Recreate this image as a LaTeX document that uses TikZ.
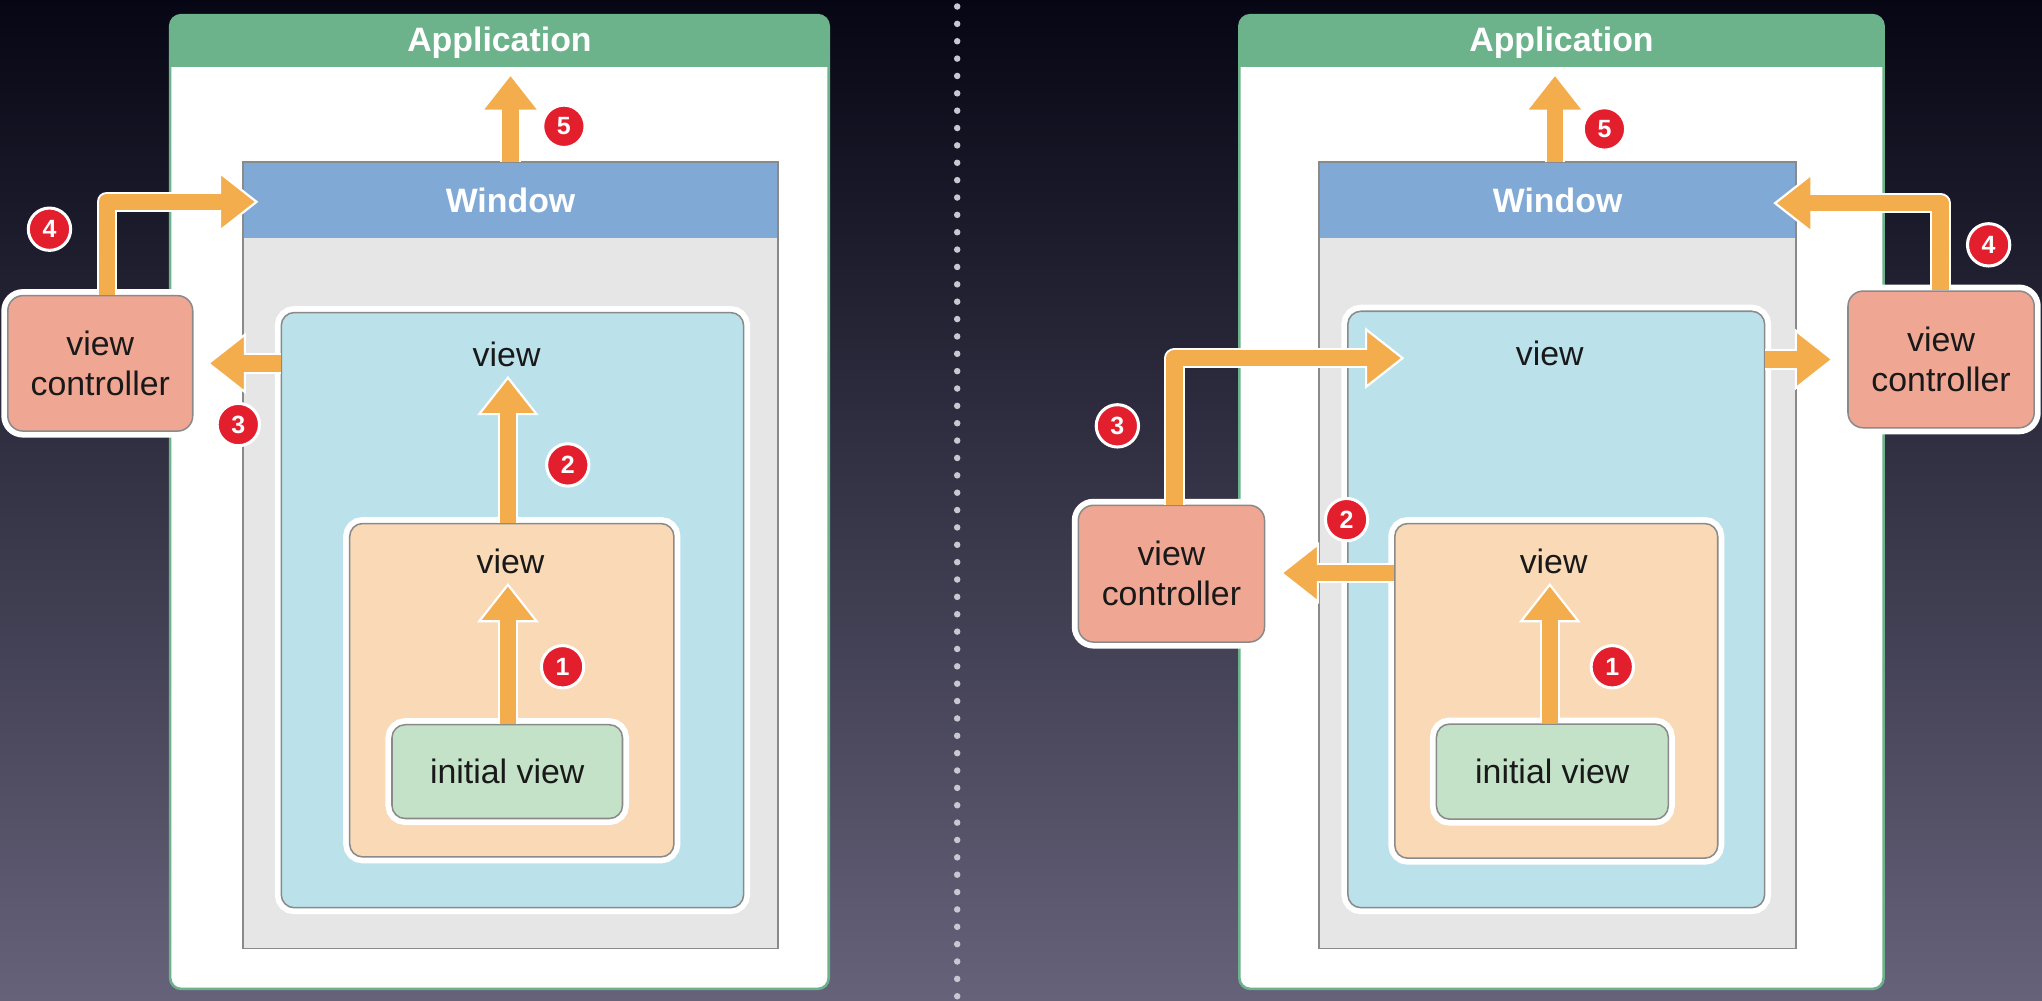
\documentclass[tikz,border=0pt]{standalone}
\usepackage{fontspec}
\setmainfont{Liberation Sans}
\usetikzlibrary{calc}
\definecolor{bgtop}{RGB}{6,6,20}
\definecolor{bgmid}{RGB}{40,39,66}
\definecolor{bgbot}{RGB}{102,98,122}
\definecolor{appgreen}{RGB}{108,178,138}
\definecolor{winblue}{RGB}{128,169,213}
\definecolor{wingray}{RGB}{229,230,229}
\definecolor{bordgray}{RGB}{138,138,138}
\definecolor{viewblue}{RGB}{187,225,235}
\definecolor{vieworange}{RGB}{249,217,182}
\definecolor{viewgreen}{RGB}{196,226,200}
\definecolor{vcred}{RGB}{239,167,148}
\definecolor{arrorange}{RGB}{244,173,76}
\definecolor{badgered}{RGB}{227,30,45}
\definecolor{txtblack}{RGB}{25,25,25}
\definecolor{dotgray}{RGB}{200,200,210}
% heads: tip at #1, length 28, half width 22 (picture units)
\newcommand\headup[1]{\filldraw[arrhead] (#1) -- ++(22,28) -- ++(-44,0) -- cycle;
  \draw[shaftfix] ($(#1)+(0,30)$) -- ($(#1)+(0,26)$);}
\newcommand\headleft[1]{\filldraw[arrhead] (#1) -- ++(28,-22) -- ++(0,44) -- cycle;
  \draw[shaftfix] ($(#1)+(30,0)$) -- ($(#1)+(26,0)$);}
\newcommand\headright[1]{\filldraw[arrhead] (#1) -- ++(-28,-22) -- ++(0,44) -- cycle;
  \draw[shaftfix] ($(#1)+(-30,0)$) -- ($(#1)+(-26,0)$);}
\begin{document}
\begin{tikzpicture}[x=0.6pt,y=-0.6pt,
  sz/.style 2 args={minimum width=#1*0.6pt, minimum height=#2*0.6pt},
  appbox/.style={rectangle, fill=white, inner sep=0, rounded corners=5pt},
  winbox/.style={rectangle, fill=wingray, inner sep=0},
  vbox/.style={rectangle, rounded corners=6pt, draw=bordgray, line width=0.7pt, inner sep=0,
     preaction={draw=white, line width=6pt}},
  bodytxt/.style={font=\fontsize{15.6}{18.6}\selectfont, text=txtblack, align=center},
  headtxt/.style={font=\bfseries\fontsize{15.6}{18.6}\selectfont, text=white},
  badge/.style={circle, fill=badgered, draw=white, line width=1.4pt, minimum size=19.5pt, inner sep=0,
     font=\bfseries\fontsize{11.5}{13}\selectfont, text=white},
  arrhead/.style={fill=arrorange, draw=white, line width=1pt, line join=miter},
  shaft/.style={draw=arrorange, line width=7.6pt, line join=round,
     preaction={draw=white, line width=9.4pt, line join=round}},
  shaftfix/.style={draw=arrorange, line width=7.6pt},
  dotline/.style={draw=dotgray, line width=3pt, line cap=round, dash pattern=on 0pt off 8pt}
]
\useasboundingbox (0,0) rectangle (1568,768);
\shade[top color=bgtop, middle color=bgmid, bottom color=bgbot] (0,0) rectangle (1568,768);
\draw[dotline] (735,5) -- (735,768);

% ================= LEFT PANEL =================
\node[appbox, sz={505}{747}] (app1) at (383.5,385.5) {};
\begin{scope}
  \clip[rounded corners=5pt] (app1.north west) rectangle (app1.south east);
  \fill[appgreen] (app1.north west) rectangle ($(app1.north east)+(0,40)$);
\end{scope}
\draw[appgreen, line width=1.2pt, rounded corners=5pt] (app1.north west) rectangle (app1.south east);
\node[headtxt] (app1t) at (383.5,33) {Application};

\node[winbox, sz={410}{603}] (win1) at (392,426.5) {};
\fill[winblue] (win1.north west) rectangle ($(win1.north east)+(0,58)$);
\draw[bordgray, line width=0.9pt] (win1.north west) rectangle (win1.south east);
\node[headtxt] (win1t) at (392,154) {Window};

\node[vbox, fill=viewblue, sz={355}{457}] (bv1) at (393.5,468.5) {};
\node[bodytxt] (bv1t) at (389,272) {view};
\node[vbox, fill=vieworange, sz={249}{256}] (ov1) at (393,530) {};
\node[bodytxt] (ov1t) at (392,431) {view};
\node[vbox, fill=viewgreen, sz={177}{72}] (iv1) at (389.5,592.5) {};
\node[bodytxt] (iv1t) at (iv1) {initial view};
\node[vbox, fill=vcred, rounded corners=7pt, sz={142}{104}] (vc1) at (77,279) {};
\node[bodytxt] (vc1t) at (vc1) {view\\controller};

% arrows left
\coordinate (t1) at (390,449);
\draw[shaft] (iv1.north -| t1) -- ($(t1)+(0,28)$);
\headup{t1}
\coordinate (t2) at (390,290);
\draw[shaft] (ov1.north -| t2) -- ($(t2)+(0,28)$);
\headup{t2}
\coordinate (t5) at (392,57);
\draw[shaft] (win1.north -| t5) -- ($(t5)+(0,28)$);
\headup{t5}
\coordinate (t3) at (160,279);
\draw[shaft] (bv1.west |- t3) -- ($(t3)+(28,0)$);
\headleft{t3}
\coordinate (c4) at (82,155);
\coordinate (t4) at (197,155);
\draw[shaft] (vc1.north -| c4) |- ($(t4)+(-28,0)$);
\headright{t4}

\node[badge] (b1) at (432,512) {1};
\node[badge] (b2) at (436,357) {2};
\node[badge] (b3) at (183,326) {3};
\node[badge] (b4) at (38,176) {4};
\node[badge] (b5) at (433,97) {5};

% ================= RIGHT PANEL =================
\node[appbox, sz={494}{747}] (app2) at (1199,385.5) {};
\begin{scope}
  \clip[rounded corners=5pt] (app2.north west) rectangle (app2.south east);
  \fill[appgreen] (app2.north west) rectangle ($(app2.north east)+(0,40)$);
\end{scope}
\draw[appgreen, line width=1.2pt, rounded corners=5pt] (app2.north west) rectangle (app2.south east);
\node[headtxt] (app2t) at (1199,33) {Application};

\node[winbox, sz={366}{603}] (win2) at (1196,426.5) {};
\fill[winblue] (win2.north west) rectangle ($(win2.north east)+(0,58)$);
\draw[bordgray, line width=0.9pt] (win2.north west) rectangle (win2.south east);
\node[headtxt] (win2t) at (1196,154) {Window};

\node[vbox, fill=viewblue, sz={320}{458}] (bv2) at (1195,468) {};
\node[bodytxt] (bv2t) at (1190,271) {view};
\node[vbox, fill=vieworange, sz={248}{257}] (ov2) at (1195,530.5) {};
\node[bodytxt] (ov2t) at (1193,431) {view};
\node[vbox, fill=viewgreen, sz={178}{73}] (iv2) at (1192,592.5) {};
\node[bodytxt] (iv2t) at (iv2) {initial view};
\node[vbox, fill=vcred, rounded corners=7pt, sz={143}{105}] (vc2) at (899.5,440.5) {};
\node[bodytxt] (vc2t) at (vc2) {view\\controller};
\node[vbox, fill=vcred, rounded corners=7pt, sz={143}{105}] (vc3) at (1490.5,276) {};
\node[bodytxt] (vc3t) at (vc3) {view\\controller};

% arrows right
\coordinate (r1) at (1190,449);
\draw[shaft] (iv2.north -| r1) -- ($(r1)+(0,28)$);
\headup{r1}
\coordinate (r5) at (1194,57);
\draw[shaft] (win2.north -| r5) -- ($(r5)+(0,28)$);
\headup{r5}
\coordinate (r2) at (984,440);
\draw[shaft] (ov2.west |- r2) -- ($(r2)+(28,0)$);
\headleft{r2}
\coordinate (rc3) at (902,275);
\coordinate (r3) at (1077,275);
\draw[shaft] (vc2.north -| rc3) |- ($(r3)+(-28,0)$);
\headright{r3}
\coordinate (r6) at (1407,276);
\draw[shaft] (bv2.east |- r6) -- ($(r6)+(-28,0)$);
\headright{r6}
\coordinate (rc4) at (1490,156);
\coordinate (r4) at (1363,156);
\draw[shaft] (vc3.north -| rc4) |- ($(r4)+(28,0)$);
\headleft{r4}

\node[badge] (rb1) at (1238,512) {1};
\node[badge] (rb2) at (1034,399) {2};
\node[badge] (rb3) at (858,327) {3};
\node[badge] (rb4) at (1527,188) {4};
\node[badge] (rb5) at (1232,99) {5};
\end{tikzpicture}
\end{document}
